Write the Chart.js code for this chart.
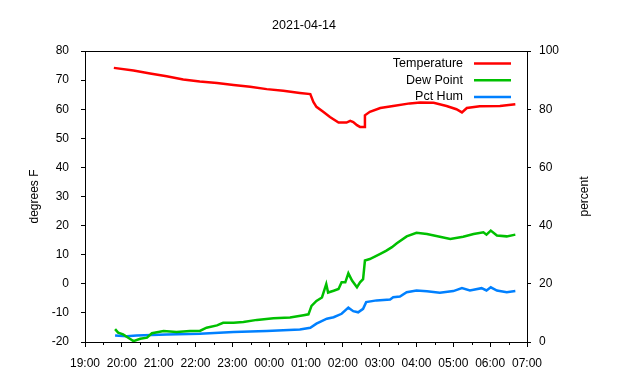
<!DOCTYPE html>
<html><head><meta charset="utf-8">
<script src="https://cdn.jsdelivr.net/npm/chart.js@4.4.0/dist/chart.umd.min.js"></script>
<style>html,body{margin:0;padding:0;background:#fff;} canvas{display:block;}</style>
</head><body>
<canvas id="c" width="640" height="380"></canvas>
<script>
const chartTitle = '2021-04-14';
const leftAxisTitle = 'degrees F';
const rightAxisTitle = 'percent';
const seriesNames = ['Temperature', 'Dew Point', 'Pct Hum'];
const seriesColors = ['#ff0000', '#00c000', '#0080ff'];
const xTickLabels = ['19:00','20:00','21:00','22:00','23:00','00:00','01:00','02:00','03:00','04:00','05:00','06:00','07:00'];

const tempTimes = ['19:47','20:19','20:46','21:13','21:40','22:07','22:35','23:02','23:29','23:56','00:23','00:50','01:07','01:12','01:17','01:28','01:39','01:53','02:06','02:12','02:17','02:23','02:28','02:35','02:36','02:44','03:01','03:22','03:49','04:06','04:28','04:49','05:05','05:14','05:22','05:43','06:16','06:41'];
const tempValues = [74.2,73.3,72.3,71.3,70.2,69.5,69.0,68.3,67.7,66.9,66.3,65.6,65.2,62.5,60.8,59.1,57.3,55.4,55.4,56.0,55.6,54.5,53.9,53.9,57.9,59.1,60.4,61.1,62.0,62.3,62.2,61.1,60.0,58.9,60.4,61.0,61.1,61.7];

const dewTimes = ['19:49','19:54','20:02','20:13','20:19','20:30','20:41','20:49','21:08','21:29','21:51','22:07','22:18','22:35','22:45','23:02','23:18','23:40','00:07','00:34','00:56','01:04','01:09','01:17','01:26','01:33','01:36','01:45','01:53','01:58','02:04','02:09','02:15','02:23','02:28','02:33','02:36','02:44','03:01','03:11','03:20','03:28','03:44','04:00','04:17','04:38','04:55','05:16','05:33','05:49','05:54','06:01','06:11','06:27','06:41'];
const dewValues = [-15.6,-16.8,-17.4,-18.9,-19.7,-18.9,-18.5,-17.0,-16.2,-16.6,-16.2,-16.2,-15.1,-14.3,-13.4,-13.4,-13.1,-12.4,-11.8,-11.6,-10.8,-10.5,-7.6,-5.9,-4.7,-0.1,-3.0,-2.4,-1.8,0.5,0.5,3.6,1.1,-1.2,0.5,1.6,8.0,8.5,10.3,11.4,12.6,13.9,16.3,17.5,17.1,16.2,15.4,16.2,17.1,17.7,16.9,18.3,16.6,16.3,16.9];

const humTimes = ['19:49','20:08','20:24','21:13','22:07','23:02','23:56','00:50','01:07','01:17','01:34','01:45','01:58','02:09','02:17','02:25','02:33','02:38','02:55','03:17','03:22','03:33','03:44','04:00','04:17','04:38','05:00','05:14','05:27','05:46','05:54','06:01','06:11','06:27','06:41'];
const humValues = [2.2,2.0,2.2,2.6,2.8,3.4,3.8,4.3,4.9,6.3,8.0,8.5,9.7,11.8,10.6,10.2,11.4,13.7,14.3,14.6,15.4,15.6,17.1,17.7,17.4,16.9,17.5,18.5,17.7,18.5,17.7,18.8,17.7,17.1,17.5];

function toHours(s) {
  const p = s.split(':').map(Number);
  let v = p[0] + p[1] / 60;
  if (v < 12) v += 24;
  return v;
}
function pts(times, vals) { return times.map((t, i) => ({ x: toHours(t), y: vals[i] })); }

const FONT = "'Liberation Sans', Arial, sans-serif";
Chart.defaults.font.family = FONT;
Chart.defaults.font.size = 12;
Chart.defaults.color = '#000';

const decor = {
  id: 'decor',
  afterDraw(chart) {
    const ctx = chart.ctx, a = chart.chartArea;
    ctx.save();
    ctx.strokeStyle = '#000'; ctx.lineWidth = 1;
    ctx.beginPath();
    ctx.moveTo(a.left, a.top + 0.5); ctx.lineTo(a.right, a.top + 0.5);
    const xs = chart.scales.x;
    for (let h = 19.5; h < 31; h += 1) {
      const px = Math.round(xs.getPixelForValue(h)) + 0.5;
      ctx.moveTo(px, a.bottom); ctx.lineTo(px, a.bottom + 3);
    }
    ctx.stroke();
    ctx.fillStyle = '#000';
    ctx.font = '12.5px ' + FONT;
    ctx.textAlign = 'center'; ctx.textBaseline = 'middle';
    ctx.fillText(chartTitle, 304, 26);
    ctx.font = '12px ' + FONT;
    ctx.save(); ctx.translate(35, (a.top + a.bottom) / 2); ctx.rotate(-Math.PI / 2);
    ctx.fillText(leftAxisTitle, 0, 0); ctx.restore();
    ctx.save(); ctx.translate(585, (a.top + a.bottom) / 2); ctx.rotate(-Math.PI / 2);
    ctx.fillText(rightAxisTitle, 0, 0); ctx.restore();
    ctx.font = '12.5px ' + FONT;
    ctx.textAlign = 'right';
    const rowsY = [63.5, 80.2, 96.9];
    chart.data.datasets.forEach((ds, i) => {
      const y = rowsY[i];
      ctx.fillStyle = '#000';
      ctx.fillText(ds.label, 463, y);
      ctx.strokeStyle = ds.borderColor; ctx.lineWidth = 2.5;
      ctx.beginPath(); ctx.moveTo(474, y); ctx.lineTo(511, y); ctx.stroke();
    });
    ctx.restore();
  }
};

new Chart(document.getElementById('c'), {
  type: 'line',
  data: {
    datasets: [
      { label: seriesNames[0], data: pts(tempTimes, tempValues), borderColor: seriesColors[0], yAxisID: 'y' },
      { label: seriesNames[1], data: pts(dewTimes, dewValues), borderColor: seriesColors[1], yAxisID: 'y' },
      { label: seriesNames[2], data: pts(humTimes, humValues), borderColor: seriesColors[2], yAxisID: 'y1' }
    ]
  },
  options: {
    responsive: false,
    devicePixelRatio: 1,
    animation: false,
    layout: { padding: { top: 51, left: 0, right: 0, bottom: 0 } },
    elements: { line: { borderWidth: 2.5, tension: 0 }, point: { radius: 0 } },
    plugins: { legend: { display: false }, tooltip: { enabled: false }, title: { display: false } },
    scales: {
      x: {
        type: 'linear', min: 19, max: 31,
        afterFit(s) { s.height = 38; },
        afterBuildTicks(s) { s.ticks = xTickLabels.map((l, i) => ({ value: 19 + i })); },
        ticks: { autoSkip: false, maxRotation: 0, padding: 9, callback: (v, i) => xTickLabels[i] },
        grid: { drawOnChartArea: false, tickLength: 5, color: '#000' },
        border: { display: true, color: '#000', width: 1 }
      },
      y: {
        position: 'left', min: -20, max: 80,
        afterFit(s) { s.width = 85; },
        ticks: { stepSize: 10, padding: 12 },
        grid: { drawOnChartArea: false, tickLength: 4, color: '#000' },
        border: { display: true, color: '#000', width: 1 }
      },
      y1: {
        position: 'right', min: 0, max: 100,
        afterFit(s) { s.width = 113; },
        ticks: { stepSize: 20, padding: 8 },
        grid: { drawOnChartArea: false, tickLength: 4, color: '#000' },
        border: { display: true, color: '#000', width: 1 }
      }
    }
  },
  plugins: [decor]
});
</script>
</body></html>
